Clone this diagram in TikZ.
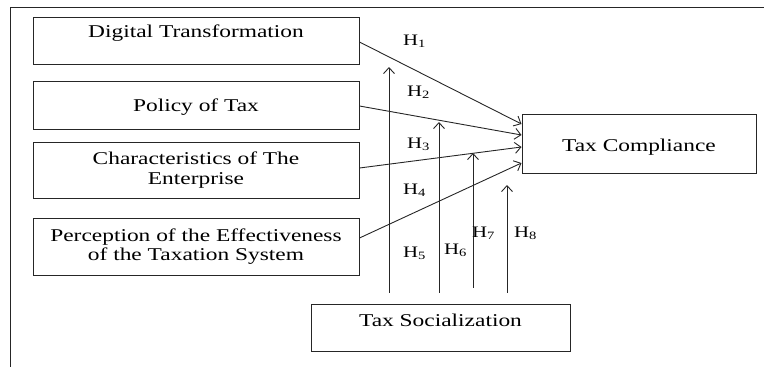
\documentclass[tikz,border=0pt]{standalone}
\usepackage{fontspec}
\setmainfont{Liberation Serif}[FakeStretch=1.3]
\usetikzlibrary{arrows.meta}
\begin{document}
\begin{tikzpicture}[x=1pt,y=-1pt,
  box/.style={draw=black!85, line width=1pt, rectangle, inner sep=0pt, align=center, font=\fontsize{18}{19.5}\selectfont},
  arr/.style={draw=black!85, line width=0.9pt, -{Straight Barb[length=6pt,width=11pt]}},
  hlab/.style={anchor=base west, inner sep=0pt, font=\fontsize{16}{18}\selectfont}]
\useasboundingbox (0,0) rectangle (764,367);
\draw[black!85, line width=1pt] (10,367) -- (10,7) -- (764,7);

\node[box, minimum width=326pt, minimum height=47pt, text height=12.5pt, text depth=19.5pt] (dt) at (196,40.5) {Digital Transformation};
\node[box, minimum width=326pt, minimum height=48pt, text height=16pt, text depth=4pt] (pt) at (196,105) {Policy of Tax};
\node[box, minimum width=326pt, minimum height=56pt] (ce) at (196,170) {Characteristics of The\\Enterprise};
\node[box, minimum width=326pt, minimum height=57pt] (pe) at (196,246.5) {Perception of the Effectiveness\\of the Taxation System};
\node[box, minimum width=234pt, minimum height=59pt, text height=20pt, text depth=4pt] (tc) at (639,143.5) {Tax Compliance};
\node[box, minimum width=259pt, minimum height=47pt, text height=12.5pt, text depth=15.5pt] (ts) at (440.5,327.5) {Tax Socialization};

\draw[arr] ([yshift=-1.5pt]dt.east) -- ([yshift=19.5pt]tc.west);
\draw[arr] ([yshift=-1pt]pt.east) -- ([yshift=8.5pt]tc.west);
\draw[arr] ([yshift=2pt]ce.east) -- ([yshift=-3.5pt]tc.west);
\draw[arr] ([yshift=8.5pt]pe.east) -- ([yshift=-19.5pt]tc.west);

\coordinate (e5) at (389,67);
\coordinate (e6) at (439,122);
\coordinate (e7) at (473,153);
\coordinate (e8) at (507,185);
\draw[arr, shorten <=11pt] (ts.north -| e5) -- (e5);
\draw[arr, shorten <=11pt] (ts.north -| e6) -- (e6);
\draw[arr, shorten <=16pt] (ts.north -| e7) -- (e7);
\draw[arr, shorten <=11pt] (ts.north -| e8) -- (e8);

\node[hlab] (h1) at (403,45) {H\textsubscript{1}};
\node[hlab] (h2) at (407,96) {H\textsubscript{2}};
\node[hlab] (h3) at (407,148) {H\textsubscript{3}};
\node[hlab] (h4) at (403,194) {H\textsubscript{4}};
\node[hlab] (h5) at (403,257) {H\textsubscript{5}};
\node[hlab] (h6) at (444,254) {H\textsubscript{6}};
\node[hlab] (h7) at (472,237) {H\textsubscript{7}};
\node[hlab] (h8) at (514,237) {H\textsubscript{8}};
\end{tikzpicture}
\end{document}
